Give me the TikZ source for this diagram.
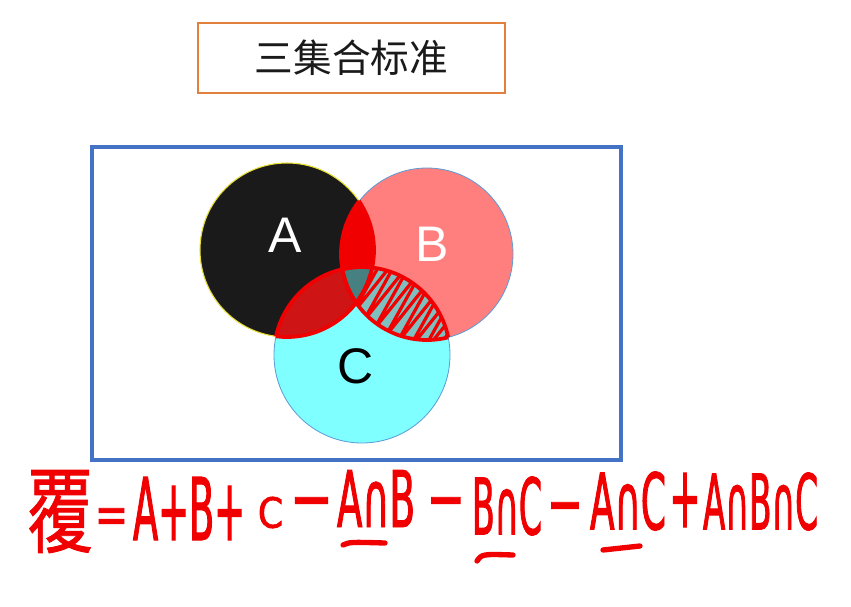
\documentclass[tikz,border=0pt]{standalone}
\usepackage{fontspec}
\usepackage{graphicx}
\setmainfont{Liberation Sans}
\newfontfamily\cjk{Noto Sans CJK SC}
\newfontfamily\handcjk{Noto Sans CJK SC}[FakeBold=1]
\newfontfamily\hand{DejaVu Sans}[FakeStretch=0.5,FakeBold=1.2]
\usetikzlibrary{decorations.pathmorphing}
\newdimen\pxu \pxu=0.75pt
\newcommand{\hw}[3]{\resizebox{#1\pxu}{#2\pxu}{\hand #3}}
\newcommand{\hwcjk}[3]{\resizebox*{#1\pxu}{#2\pxu}{\handcjk #3}}
\definecolor{titleorange}{HTML}{E0803A}
\definecolor{titleink}{HTML}{1A1A1A}
\definecolor{frameblue}{HTML}{4472C4}
\definecolor{inkred}{HTML}{F00000}
\definecolor{ablack}{HTML}{1A1A1A}
\definecolor{bfill}{RGB}{255,0,0}
\definecolor{cfill}{RGB}{0,255,255}
\definecolor{centerteal}{RGB}{70,128,128}
\definecolor{venedge}{HTML}{5B9BD5}
\definecolor{aedge}{HTML}{E8E030}
\begin{document}
\begin{tikzpicture}[x=0.75pt,y=-0.75pt,
  titlebox/.style={draw=titleorange, line width=1.5pt, minimum width=230.25pt, minimum height=52.5pt, inner sep=0pt, text=titleink, font=\cjk\fontsize{29}{29}\selectfont},
  framebox/.style={draw=frameblue, line width=2.6pt, minimum width=396.75pt, minimum height=234.75pt, inner sep=0pt},
  vlabel/.style={inner sep=0pt, font=\fontsize{37.5}{37.5}\selectfont},
  hwtext/.style={inner sep=0pt, text=inkred},
  inkline/.style={draw=inkred, line width=4pt, line cap=round},
  scribble/.style={draw=inkred, line width=2.8pt, line cap=round, line join=round},
]
\useasboundingbox (0,0) rectangle (851,607);
\fill[white] (0,0) rectangle (851,607);

% title
\node[titlebox] (title) at (351.5,58) {三集合标准};

% frame
\node[framebox] (frame) at (356.5,303.5) {};

% circles
\def\circA{(287,250) circle[radius=87]}
\def\circB{(427,254) circle[radius=86]}
\def\circC{(362,355) circle[radius=88]}
\fill[ablack] \circA;
\draw[aedge, line width=0.8pt] \circA;
\fill[bfill, fill opacity=0.5] \circB;
\draw[venedge, line width=0.6pt] \circB;
\fill[cfill, fill opacity=0.5] \circC;
\draw[venedge, line width=0.6pt] \circC;

% red scribbles: A and B
\begin{scope}
  \clip \circA; \clip \circB;
  \fill[inkred] \circA;
\end{scope}
% A and C
\begin{scope}
  \clip \circA; \clip \circC;
  \fill[inkred, fill opacity=0.85] \circA;
\end{scope}
% B and C
\begin{scope}
  \clip \circB; \clip \circC;
  \draw[scribble, line width=2.4pt, decorate, decoration={zigzag, segment length=10pt, amplitude=30pt}] (355,268) -- (462,340);
\end{scope}
% centre (all three) left unscribbled
\begin{scope}
  \clip \circA; \clip \circB; \clip \circC;
  \fill[centerteal] \circA;
\end{scope}
% red outlines of the inner regions
\begin{scope}\clip \circB; \draw[scribble] \circA;\end{scope}
\begin{scope}\clip \circC; \draw[scribble] \circA;\end{scope}
\begin{scope}\clip \circA; \draw[scribble] \circB;\end{scope}
\begin{scope}\clip \circC; \draw[scribble] \circB;\end{scope}
\begin{scope}\clip \circA; \draw[scribble] \circC;\end{scope}
\begin{scope}\clip \circB; \draw[scribble] \circC;\end{scope}

% circle labels
\node[vlabel, text=white] (la) at (285,235) {A};
\node[vlabel, text=white] (lb) at (432,244.5) {B};
\node[vlabel, text=black] (lc) at (356,366.5) {C};

% handwritten formula
\node[hwtext] (fu) at (60,511.5) {\hwcjk{66}{83}{覆}};
\node[hwtext, anchor=north] (eq) at (111.5,508) {\hw{33}{25}{=}};
\node[hwtext] (apb) at (189,508.5) {\hw{112}{63}{A+B+}};
\node[hwtext] (c1) at (270.5,512.5) {\hw{25}{31}{C}};
\node[hwtext, anchor=north] (m1) at (311.5,497) {\hw{43}{27}{−}};
\node[hwtext] (ab) at (376,498.5) {\hw{78}{57}{A∩B}};
\node[hwtext, anchor=north] (m2) at (446,497) {\hw{38}{27}{−}};
\node[hwtext] (bc) at (507,506) {\hw{70}{58}{B∩C}};
\node[hwtext, anchor=north] (m3) at (565,502) {\hw{36}{27}{−}};
\node[hwtext] (ac) at (628,501) {\hw{76}{58}{A∩C}};
\node[hwtext] (pl) at (685,500) {\hw{31}{54}{+}};
\node[hwtext] (abc) at (760.5,501.5) {\hw{115}{57}{A∩B∩C}};

% underlines
\draw[inkline] (343,545) .. controls (350,542) .. (385,543);
\draw[inkline] (477,561) .. controls (482,554) .. (513,555);
\draw[inkline] (603,550) -- (640,546);
\end{tikzpicture}
\end{document}
